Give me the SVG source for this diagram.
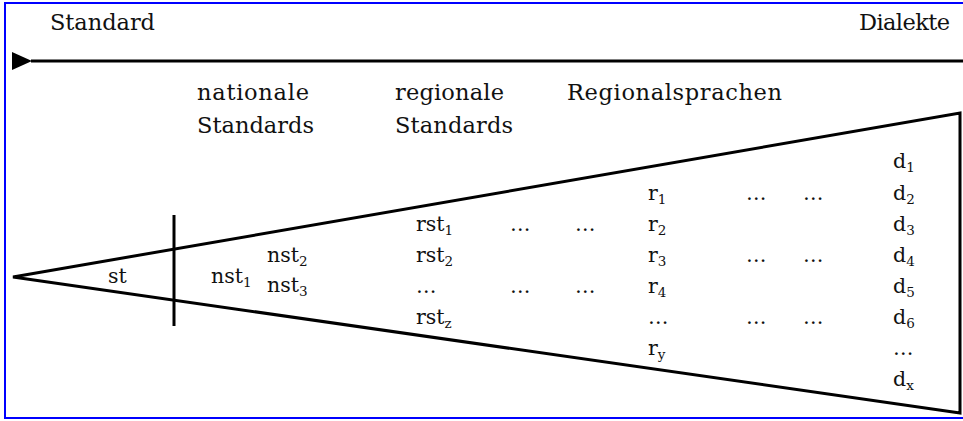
<svg xmlns="http://www.w3.org/2000/svg" width="963" height="421" viewBox="0 0 963 421">
<style>
text{font-family:"DejaVu Serif","Liberation Serif",serif;fill:#111}
.h{font-size:22.5px}
.s{font-size:20.5px}
.sub{font-size:13.5px}
.ln{stroke:#000;stroke-width:3;fill:none}
</style>
<defs>
<marker id="ah" markerWidth="21" markerHeight="18" refX="1" refY="9" orient="auto" markerUnits="userSpaceOnUse">
<polygon points="0,9 20,0 20,18" fill="#000"/>
</marker>
</defs>
<rect x="0" y="0" width="963" height="421" fill="#fff"/>
<rect x="5" y="3" width="966" height="415" fill="none" stroke="#0000ff" stroke-width="2"/>
<g id="connectors">
<line class="ln" x1="963" y1="61" x2="31" y2="61" marker-end="url(#ah)"/>
</g>
<g id="wedge">
<polygon class="ln" points="13,277 960,113 960,413" stroke-linejoin="miter"/>
<line class="ln" x1="174" y1="215" x2="174" y2="326"/>
</g>
<g id="labels-top">
<text class="h" x="50" y="30" textLength="105">Standard</text>
<text class="h" x="859" y="30" textLength="91">Dialekte</text>
</g>
<g id="head-national">
<text class="h" x="197" y="100" textLength="112">nationale</text>
<text class="h" x="197" y="133" textLength="117">Standards</text>
</g>
<g id="head-regional">
<text class="h" x="395" y="100" textLength="109">regionale</text>
<text class="h" x="395" y="133" textLength="118">Standards</text>
</g>
<g id="head-regionalsprachen">
<text class="h" x="567" y="100" textLength="215">Regionalsprachen</text>
</g>
<g id="node-st">
<text class="s" x="108" y="283">st</text>
</g>
<g id="node-nst">
<text class="s" x="211" y="283">nst<tspan class="sub" dy="4">1</tspan></text>
<text class="s" x="267" y="262">nst<tspan class="sub" dy="4">2</tspan></text>
<text class="s" x="267" y="292">nst<tspan class="sub" dy="4">3</tspan></text>
</g>
<g id="node-rst">
<text class="s" x="416" y="231">rst<tspan class="sub" dy="4">1</tspan></text>
<text class="s" x="416" y="262">rst<tspan class="sub" dy="4">2</tspan></text>
<text class="s" x="416" y="293">…</text>
<text class="s" x="416" y="324">rst<tspan class="sub" dy="4">z</tspan></text>
<text class="s" x="510" y="231">…</text>
<text class="s" x="575" y="231">…</text>
<text class="s" x="510" y="293">…</text>
<text class="s" x="575" y="293">…</text>
</g>
<g id="node-r">
<text class="s" x="648" y="199.5">r<tspan class="sub" dy="4">1</tspan></text>
<text class="s" x="648" y="231">r<tspan class="sub" dy="4">2</tspan></text>
<text class="s" x="648" y="262">r<tspan class="sub" dy="4">3</tspan></text>
<text class="s" x="648" y="293">r<tspan class="sub" dy="4">4</tspan></text>
<text class="s" x="648" y="324">…</text>
<text class="s" x="648" y="355">r<tspan class="sub" dy="4">y</tspan></text>
<text class="s" x="746" y="199.5">…</text>
<text class="s" x="803" y="199.5">…</text>
<text class="s" x="746" y="262">…</text>
<text class="s" x="803" y="262">…</text>
<text class="s" x="746" y="324">…</text>
<text class="s" x="803" y="324">…</text>
</g>
<g id="node-d">
<text class="s" x="893" y="168">d<tspan class="sub" dy="4">1</tspan></text>
<text class="s" x="893" y="199.5">d<tspan class="sub" dy="4">2</tspan></text>
<text class="s" x="893" y="231">d<tspan class="sub" dy="4">3</tspan></text>
<text class="s" x="893" y="262">d<tspan class="sub" dy="4">4</tspan></text>
<text class="s" x="893" y="293">d<tspan class="sub" dy="4">5</tspan></text>
<text class="s" x="893" y="324">d<tspan class="sub" dy="4">6</tspan></text>
<text class="s" x="893" y="355">…</text>
<text class="s" x="893" y="386">d<tspan class="sub" dy="4">x</tspan></text>
</g>
</svg>
